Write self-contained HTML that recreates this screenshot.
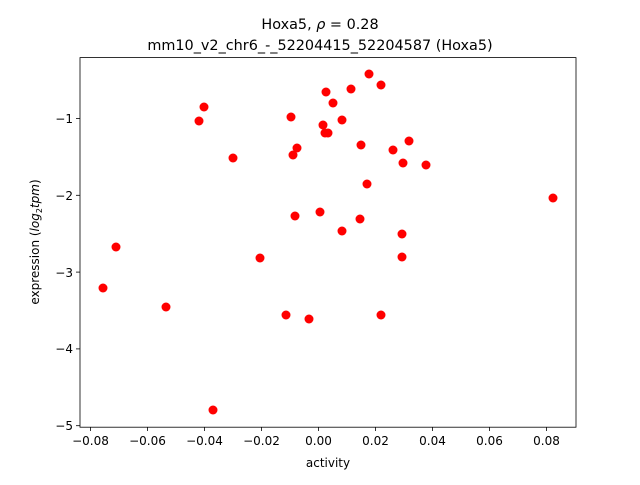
<!DOCTYPE html>
<html><head><style>body{margin:0;background:#fff}</style></head><body>
<svg width="640" height="480" xmlns="http://www.w3.org/2000/svg" font-family="DejaVu Sans, Liberation Sans, sans-serif">
<rect width="640" height="480" fill="#fff"/>
<text x="320" y="29" text-anchor="middle" font-size="14.4">Hoxa5, <tspan font-style="italic">ρ</tspan> = 0.28</text>
<text x="320" y="50" text-anchor="middle" font-size="14.4">mm10_v2_chr6_-_52204415_52204587 (Hoxa5)</text>
<g fill="#ff0000">
<circle cx="369" cy="74" r="4.5"/><circle cx="381" cy="85" r="4.5"/><circle cx="351" cy="89" r="4.5"/><circle cx="326" cy="92" r="4.5"/><circle cx="333" cy="103" r="4.5"/><circle cx="204" cy="107" r="4.5"/><circle cx="199" cy="121" r="4.5"/><circle cx="291" cy="117" r="4.5"/><circle cx="342" cy="120" r="4.5"/><circle cx="323" cy="125" r="4.5"/><circle cx="325" cy="133" r="4.5"/><circle cx="328" cy="133" r="4.5"/><circle cx="409" cy="141" r="4.5"/><circle cx="361" cy="145" r="4.5"/><circle cx="297" cy="148" r="4.5"/><circle cx="393" cy="150" r="4.5"/><circle cx="293" cy="155" r="4.5"/><circle cx="233" cy="158" r="4.5"/><circle cx="403" cy="163" r="4.5"/><circle cx="426" cy="165" r="4.5"/><circle cx="367" cy="184" r="4.5"/><circle cx="553" cy="198" r="4.5"/><circle cx="320" cy="212" r="4.5"/><circle cx="295" cy="216" r="4.5"/><circle cx="360" cy="219" r="4.5"/><circle cx="342" cy="231" r="4.5"/><circle cx="402" cy="234" r="4.5"/><circle cx="116" cy="247" r="4.5"/><circle cx="260" cy="258" r="4.5"/><circle cx="402" cy="257" r="4.5"/><circle cx="103" cy="288" r="4.5"/><circle cx="166" cy="307" r="4.5"/><circle cx="286" cy="315" r="4.5"/><circle cx="381" cy="315" r="4.5"/><circle cx="309" cy="319" r="4.5"/><circle cx="213" cy="410" r="4.5"/>
</g>
<rect x="80" y="57.6" width="496" height="369.6" fill="none" stroke="#000" stroke-width="0.8"/>
<g stroke="#000" stroke-width="0.8">
<line x1="90.5" y1="427" x2="90.5" y2="431"/><line x1="147.5" y1="427" x2="147.5" y2="431"/><line x1="204.5" y1="427" x2="204.5" y2="431"/><line x1="261.5" y1="427" x2="261.5" y2="431"/><line x1="318.5" y1="427" x2="318.5" y2="431"/><line x1="375.5" y1="427" x2="375.5" y2="431"/><line x1="432.5" y1="427" x2="432.5" y2="431"/><line x1="489.5" y1="427" x2="489.5" y2="431"/><line x1="546.5" y1="427" x2="546.5" y2="431"/>
<line x1="76" y1="118.5" x2="80" y2="118.5"/><line x1="76" y1="195.3" x2="80" y2="195.3"/><line x1="76" y1="272.1" x2="80" y2="272.1"/><line x1="76" y1="348.9" x2="80" y2="348.9"/><line x1="76" y1="425.7" x2="80" y2="425.7"/>
</g>
<g font-size="12" text-anchor="middle">
<text x="90.5" y="445">−0.08</text><text x="147.5" y="445">−0.06</text><text x="204.5" y="445">−0.04</text><text x="261.5" y="445">−0.02</text><text x="318.5" y="445">0.00</text><text x="375.5" y="445">0.02</text><text x="432.5" y="445">0.04</text><text x="489.5" y="445">0.06</text><text x="546.5" y="445">0.08</text>
<text x="328" y="467" font-size="12">activity</text>
</g>
<g font-size="12" text-anchor="end">
<text x="73" y="123">−1</text><text x="73" y="200">−2</text><text x="73" y="277">−3</text><text x="73" y="353">−4</text><text x="73" y="430">−5</text>
</g>
<text transform="translate(39,242) rotate(-90)" text-anchor="middle" font-size="12">expression (<tspan font-style="italic">log</tspan><tspan font-size="8" dy="3">2</tspan><tspan dy="-3" font-style="italic">tpm</tspan>)</text>
</svg>
</body></html>
